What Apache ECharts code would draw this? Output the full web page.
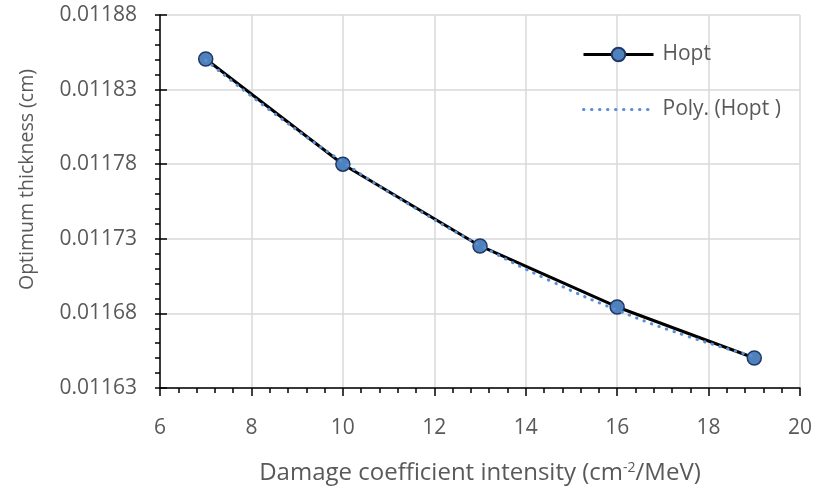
<!DOCTYPE html>
<html>
<head>
<meta charset="utf-8">
<script src="https://cdn.jsdelivr.net/npm/echarts@6/dist/echarts.min.js"></script>
<style>html,body{margin:0;padding:0;background:#fff}#c{width:816px;height:492px}</style>
</head>
<body>
<div id="c"></div>
<script>
// Data
var damageX = [7, 10, 13, 16, 19];
var hopt = [0.0118505, 0.01178, 0.0117252, 0.0116843, 0.0116501];
// Polynomial trendline (Poly. (Hopt))
var trendX = [7, 8.5, 10, 11.5, 13, 14.5, 16, 17.5, 19];
var trendY = [0.0118497, 0.0118140, 0.0117815, 0.0117520, 0.0117257, 0.0117024, 0.0116822, 0.0116651, 0.0116511];
var yTickLabels = ['0.01163', '0.01168', '0.01173', '0.01178', '0.01183', '0.01188'];
var xTickLabels = ['6', '8', '10', '12', '14', '16', '18', '20'];

var Y0 = 0.01163, YS = 1e5; // axis offset so ticks start at 0.01163
function toAxis(v) { return Math.round((v - Y0) * YS * 1e4) / 1e4; }

var FONT = '"Open Sans"';
var TXT = '#595959';
var TREND = '#5b8fd3';
var chart = echarts.init(document.getElementById('c'), null, {renderer: 'canvas'});
chart.setOption({
  animation: false,
  textStyle: {fontFamily: FONT},
  grid: {left: 160, right: 16, top: 15, bottom: 104, containLabel: false},
  legend: {
    orient: 'vertical', left: 577, top: 39, itemWidth: 70, itemHeight: 17, itemGap: 34,
    textStyle: {fontSize: 21, color: TXT, fontFamily: FONT, padding: [0, 0, 0, 4]},
    data: [
      {name: 'Hopt', lineStyle: {width: 3, color: '#000'}},
      {name: 'Poly. (Hopt )', itemStyle: {opacity: 0},
       lineStyle: {width: 3, color: TREND, type: [0.5, 7.5], cap: 'round'}}
    ]
  },
  xAxis: {
    type: 'value', min: 6, max: 20, interval: 2,
    name: 'Damage coefficient intensity (cm{sup|-2}/MeV)',
    nameLocation: 'middle', nameGap: 73,
    nameTextStyle: {fontSize: 24, color: TXT, fontFamily: FONT,
      rich: {sup: {fontSize: 14, color: TXT, fontFamily: FONT, padding: [0, 0, 10, 0]}}},
    axisLine: {show: true, lineStyle: {color: '#000', width: 1.5}},
    axisTick: {show: true, inside: false, length: 8, lineStyle: {color: '#000', width: 1.5}},
    minorTick: {show: true, splitNumber: 5, length: 5, lineStyle: {color: '#000', width: 1.5}},
    axisLabel: {fontSize: 21, color: TXT, margin: 30, fontFamily: FONT,
      formatter: function (v) { var i = Math.round((v - 6) / 2); return xTickLabels[i]; }},
    splitLine: {show: true, lineStyle: {color: '#d9d9d9', width: 1.5}}
  },
  yAxis: [{
    type: 'value', min: 0, max: 25, interval: 5,
    name: 'Optimum thickness (cm)', nameLocation: 'middle', nameGap: 123, nameRotate: 90,
    nameTextStyle: {fontSize: 19.5, color: TXT, fontFamily: FONT, padding: [0, 0, 0, 44]},
    axisLine: {show: true, lineStyle: {color: '#000', width: 1.5}},
    axisTick: {show: true, inside: false, length: 5, lineStyle: {color: '#000', width: 1.5}},
    minorTick: {show: true, splitNumber: 5, length: 5, lineStyle: {color: '#000', width: 1.5}},
    axisLabel: {fontSize: 21, color: TXT, margin: 23, fontFamily: FONT,
      formatter: function (v) { var i = Math.round(v / 5); return yTickLabels[i]; }},
    splitLine: {show: true, lineStyle: {color: '#d9d9d9', width: 1.5}}
  }, {
    type: 'value', min: 0, max: 25, interval: 5, position: 'left',
    axisLine: {show: false},
    axisTick: {show: true, inside: true, length: 7, lineStyle: {color: '#000', width: 1.5}},
    axisLabel: {show: false}, splitLine: {show: false}
  }],
  series: [{
    name: 'Poly. (Hopt )', type: 'line', smooth: true, symbol: 'none', z: 3,
    lineStyle: {color: TREND, width: 3, type: [0.5, 7.5], cap: 'round'},
    itemStyle: {color: TREND},
    data: trendX.map(function (x, i) { return [x, toAxis(trendY[i])]; })
  }, {
    name: 'Hopt', type: 'line', symbol: 'circle', symbolSize: 14, z: 2,
    lineStyle: {color: '#000', width: 3},
    itemStyle: {color: '#4f81bd', borderColor: '#1f3864', borderWidth: 1.5},
    data: damageX.map(function (x, i) { return [x, toAxis(hopt[i])]; })
  }]
});
</script>
</body>
</html>
